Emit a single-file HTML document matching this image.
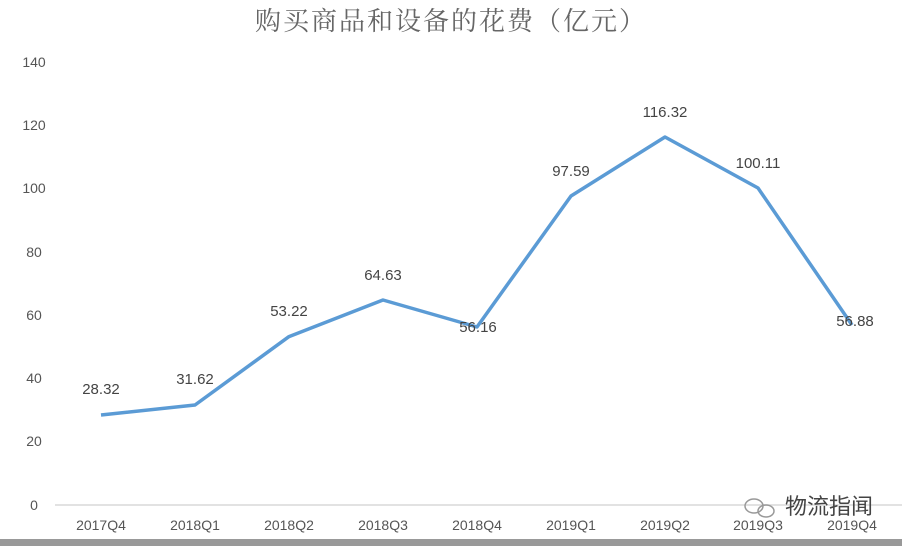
<!DOCTYPE html><html><head><meta charset="utf-8"><style>body{margin:0;background:#fff}svg{display:block}</style></head><body>
<svg width="902" height="546" xmlns="http://www.w3.org/2000/svg" font-family="'Liberation Sans','Noto Sans CJK SC',sans-serif">
<rect width="902" height="546" fill="#fff"/>
<text x="451" y="30" text-anchor="middle" font-size="26" fill="#666" font-family="'Liberation Serif','Noto Serif CJK SC',serif" letter-spacing="2">购买商品和设备的花费（亿元）</text>
<g font-size="14" fill="#555" text-anchor="middle">
<text x="34" y="67">140</text><text x="34" y="130">120</text><text x="34" y="193">100</text><text x="34" y="257">80</text><text x="34" y="320">60</text><text x="34" y="383">40</text><text x="34" y="446">20</text><text x="34" y="510">0</text>
</g>
<line x1="55" y1="505" x2="902" y2="505" stroke="#d9d9d9" stroke-width="1.5"/>
<g font-size="14" fill="#555" text-anchor="middle">
<text x="101" y="530">2017Q4</text><text x="195" y="530">2018Q1</text><text x="289" y="530">2018Q2</text><text x="383" y="530">2018Q3</text><text x="477" y="530">2018Q4</text><text x="571" y="530">2019Q1</text><text x="665" y="530">2019Q2</text><text x="758" y="530">2019Q3</text><text x="852" y="530">2019Q4</text>
</g>
<polyline fill="none" stroke="#5b9bd5" stroke-width="3.5" stroke-linejoin="round" points="101,415 195,405 289,336.6 383,300 477,327 571,196 665,137 758,188 852,325"/>
<g font-size="15" fill="#444" text-anchor="middle">
<text x="101" y="394">28.32</text><text x="195" y="384">31.62</text><text x="289" y="316">53.22</text><text x="383" y="280">64.63</text><text x="478" y="332">56.16</text><text x="571" y="176">97.59</text><text x="665" y="117">116.32</text><text x="758" y="168">100.11</text><text x="855" y="326">56.88</text>
</g>
<text x="785" y="514" font-size="22" fill="#444" font-family="'Noto Sans CJK SC',sans-serif">物流指闻</text>
<g fill="none" stroke="#999" stroke-width="1.5"><ellipse cx="754" cy="506" rx="9" ry="7"/><ellipse cx="766" cy="511" rx="8" ry="6"/></g>
<rect x="0" y="539" width="902" height="7" fill="#999"/>
</svg>
</body></html>
